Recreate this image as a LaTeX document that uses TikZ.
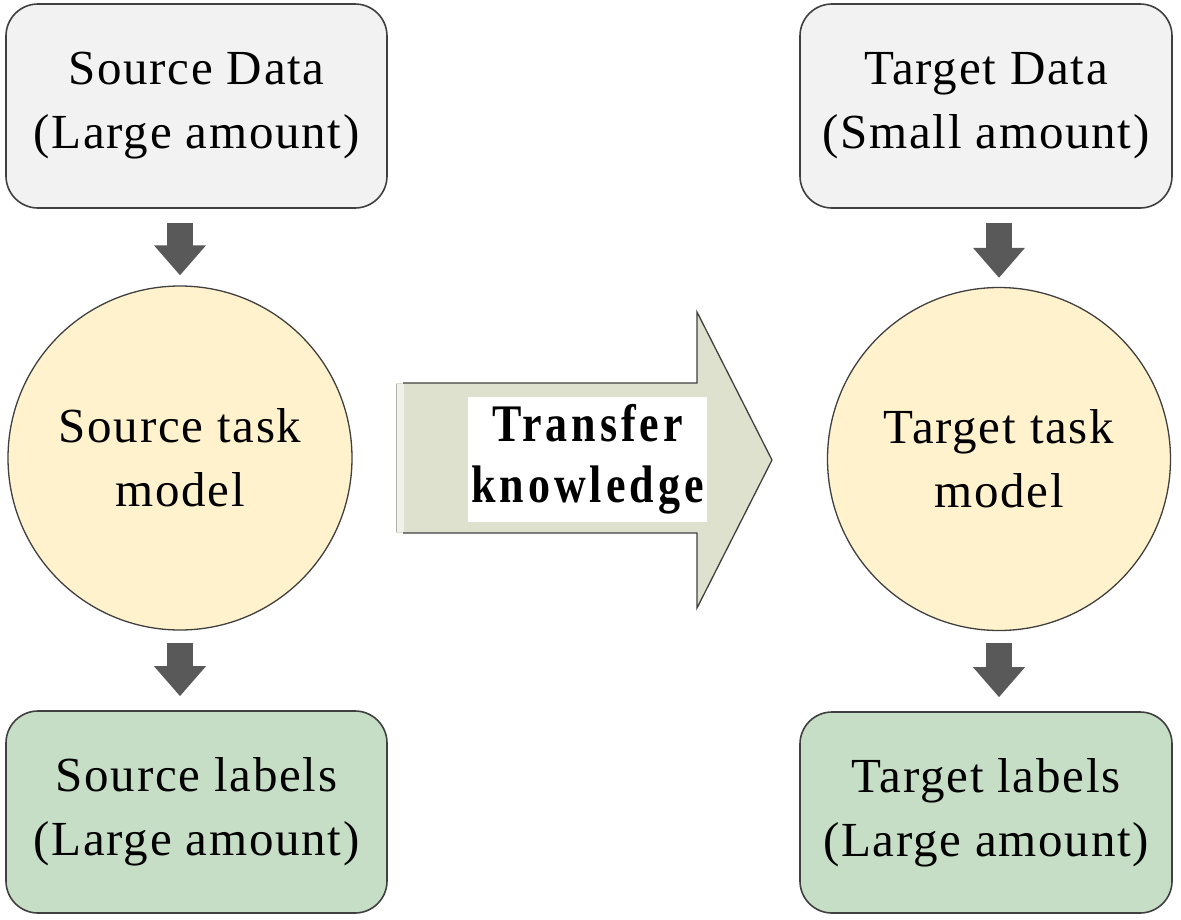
\documentclass[tikz,border=0pt]{standalone}
\usepackage{fontspec}
\usepackage{graphicx}
\setmainfont{Liberation Serif}
\newfontfamily\mainsp[LetterSpace=3.5]{Liberation Serif}
\newfontfamily\boldsp[LetterSpace=9]{Liberation Serif}
\usetikzlibrary{arrows.meta,calc}
\definecolor{boxgray}{HTML}{F2F2F2}
\definecolor{edge}{HTML}{404040}
\definecolor{circfill}{HTML}{FFF2CC}
\definecolor{greenfill}{HTML}{C5DEC5}
\definecolor{arrowfill}{HTML}{DEE1CE}
\definecolor{arrowdark}{HTML}{595959}
\begin{document}
\begin{tikzpicture}[x=1pt,y=-1pt,
  txt/.style={align=center, font=\mainsp\fontsize{49}{64}\selectfont, text=black},
  databox/.style={txt, draw=edge, line width=1.6pt, rounded corners=32pt, fill=boxgray, minimum width=381pt, minimum height=204pt, inner sep=0pt},
  labelbox/.style={databox, fill=greenfill},
  model/.style={txt, circle, draw=edge, line width=1.3pt, fill=circfill, minimum size=344pt, inner sep=0pt},
  flow/.style={draw=arrowdark, line width=26pt, -{Triangle[width=50pt,length=30pt]}, arrowdark},
  bigarrow/.style={fill=arrowfill},
  bigedge/.style={draw=edge, line width=1.3pt, line join=miter}
]
\useasboundingbox (0,0) rectangle (1181,919);
\fill[white] (0,0) rectangle (1181,919);

% nodes
\node[databox] (sd) at (196.5,106) {Source Data\\(Large amount)};
\node[databox, minimum width=372pt] (td) at (986,106) {Target Data\\(Small amount)};
\node[model] (sc) at (180,458) {Source task\\model};
\node[model, minimum size=343pt] (tc) at (999,459) {Target task\\model};
\node[labelbox, minimum height=202pt] (sl) at (196.5,812) {Source labels\\(Large amount)};
\node[labelbox, minimum width=372pt, minimum height=201pt] (tl) at (986,812.5) {Target labels\\(Large amount)};

% big transfer arrow
\fill[bigarrow] (396,383) -- (697,383) -- (697,312) -- (772,460) -- (697,608) -- (697,533) -- (396,533) -- cycle;
\draw[bigedge] (403,383) -- (697,383) -- (697,312) -- (772,460) -- (697,608) -- (697,533) -- (403,533);
\fill[arrowfill!45!white] (396,384) rectangle (404,532);
\draw[gray!60, line width=0.8pt] (396,384) -- (396,532);
\node[fill=white, minimum width=239pt, minimum height=125pt, inner sep=0pt,
      font=\boldsp\bfseries\fontsize{44}{51}\selectfont] (tk) at (587.5,459.5)
  {\scalebox{1}[1.2]{\begin{tabular}{@{}c@{}}Transfer\\knowledge\end{tabular}}};

% flow arrows
\draw[flow] ($(sc.north |- sd.south)+(0,14)$) -- ($(sc.north)+(0,-10)$);
\draw[flow] ($(tc.north |- td.south)+(0,14)$) -- ($(tc.north)+(0,-9)$);
\draw[flow] ($(sc.south)+(0,12)$) -- ($(sc.south |- sl.north)+(0,-14)$);
\draw[flow] ($(tc.south)+(0,12)$) -- ($(tc.south |- tl.north)+(0,-14)$);
\end{tikzpicture}
\end{document}
